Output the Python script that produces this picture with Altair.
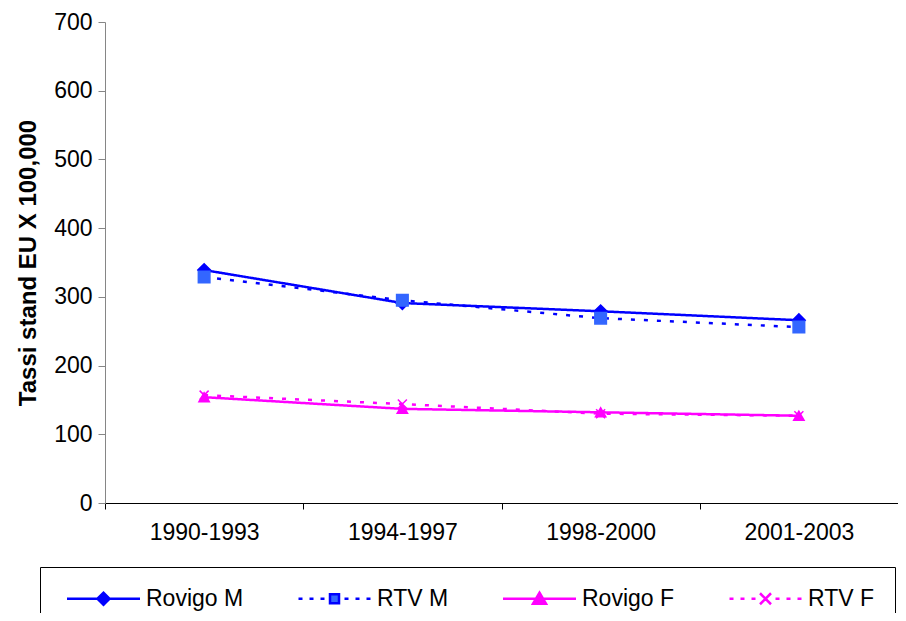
import altair as alt
import pandas as pd

periods = ["1990-1993", "1994-1997", "1998-2000", "2001-2003"]
series = ["Rovigo M", "RTV M", "Rovigo F", "RTV F"]
rovigo_m = [339, 291, 279, 266]
rtv_m = [329, 295, 269, 256]
rovigo_f = [154, 137, 132, 127]
rtv_f = [157, 144, 130, 127]

line_colors = ["#0000FF", "#0000FF", "#FF00FF", "#FF00FF"]
marker_colors = ["#0000FF", "#3366FF", "#FF00FF", "#FF00FF"]
dashes = [[1, 0], [4, 9], [1, 0], [4, 9]]
X_PATH = "M-1,-1L1,1M-1,1L1,-1"
marker_shapes = ["diamond", "square", "triangle-up", X_PATH]

rows = []
for name, vals in zip(series, [rovigo_m, rtv_m, rovigo_f, rtv_f]):
    for p, v in zip(periods, vals):
        rows.append({"period": p, "series": name, "value": v})
df = pd.DataFrame(rows)

# ---- legend symbol paths (line + marker), style only ----
U = 6.0  # px per path unit when symbolSize = 12^2


def f(v):
    return f"{v / U:.4f}"


def solid():
    return f"M{f(-36.5)},0L{f(36.5)},0"


def dotted():
    segs = [(-36, -32), (-25, -21), (-14, -10), (10, 14), (21, 25), (32, 36)]
    return "".join(f"M{f(a)},0L{f(b)},0" for a, b in segs)


leg_paths = [
    solid() + f"M{f(-6)},0L0,{f(-6)}L{f(6)},0L0,{f(6)}Z",
    dotted() + f"M{f(-4.5)},{f(-4.5)}L{f(4.5)},{f(-4.5)}L{f(4.5)},{f(4.5)}L{f(-4.5)},{f(4.5)}Z",
    solid() + f"M0,{f(-6)}L{f(6.5)},{f(5)}L{f(-6.5)},{f(5)}Z",
    dotted() + f"M{f(-5.5)},{f(-5.5)}L{f(5.5)},{f(5.5)}M{f(-5.5)},{f(5.5)}L{f(5.5)},{f(-5.5)}",
]

FONT = "Liberation Sans"

x_enc = alt.X(
    "period:N",
    sort=periods,
    bandPosition=0.5,
    scale=alt.Scale(type="band", paddingInner=0, paddingOuter=0),
    axis=alt.Axis(
        title=None, labelAngle=0, tickBand="extent", tickSize=6, labelPadding=12,
        domainColor="#000000", tickColor="#000000", labelFont=FONT, labelFontSize=23,
        labelColor="#000000", grid=False,
    ),
)
y_enc = alt.Y(
    "value:Q",
    scale=alt.Scale(domain=[0, 700], nice=False),
    axis=alt.Axis(
        values=list(range(0, 701, 100)), title="Tassi stand EU X 100,000",
        titleFont=FONT, titleFontSize=24, titleFontWeight="bold", titleColor="#000000",
        titlePadding=13, labelFont=FONT, labelFontSize=23, labelColor="#000000",
        tickSize=7, labelPadding=6, domainColor="#868686", tickColor="#868686", grid=False,
    ),
)

base = alt.Chart(df)

lines = base.mark_line(strokeWidth=2.5).encode(
    x=x_enc,
    y=y_enc,
    color=alt.Color("series:N", scale=alt.Scale(domain=series, range=line_colors), legend=None),
    strokeDash=alt.StrokeDash("series:N", scale=alt.Scale(domain=series, range=dashes), legend=None),
    detail="series:N",
)

markers = base.mark_point(filled=True, opacity=1, strokeWidth=1.5, size=150).encode(
    x=x_enc,
    y=y_enc,
    fill=alt.Fill("series:N", scale=alt.Scale(domain=series, range=marker_colors), legend=None),
    stroke=alt.Stroke("series:N", scale=alt.Scale(domain=series, range=marker_colors), legend=None),
    shape=alt.Shape("series:N", scale=alt.Scale(domain=series, range=marker_shapes), legend=None),
    size=alt.Size("series:N", scale=alt.Scale(domain=series, range=[160, 81, 170, 150]), legend=None),
)

leg = alt.Legend(
    title=None, orient="none", legendX=-65, legendY=545, direction="horizontal",
    columns=4, strokeColor="#000000", padding=20, columnPadding=47, labelOffset=31,
    symbolOffset=32, labelFont=FONT, labelFontSize=23, labelColor="#000000", labelLimit=300,
    symbolSize=144, symbolStrokeWidth=2.5,
)

legend_layer = base.transform_filter("false").mark_point(filled=True, opacity=1, strokeWidth=2.5).encode(
    x=x_enc,
    y=y_enc,
    fill=alt.Fill("series:N", scale=alt.Scale(domain=series, range=marker_colors), legend=leg),
    stroke=alt.Stroke("series:N", scale=alt.Scale(domain=series, range=line_colors), legend=leg),
    shape=alt.Shape("series:N", scale=alt.Scale(domain=series, range=leg_paths), legend=leg),
)

chart = (
    alt.layer(lines, markers, legend_layer)
    .resolve_scale(fill="independent", stroke="independent", shape="independent", size="independent")
    .properties(
        width=793, height=481,
        autosize=alt.AutoSizeParams(type="none"),
        padding={"left": 97, "top": 14, "right": 0, "bottom": 110},
        background="#FFFFFF",
    )
    .configure_view(strokeWidth=0)
)

chart.save("out.html", embed_options={"renderer": "svg", "actions": False})
